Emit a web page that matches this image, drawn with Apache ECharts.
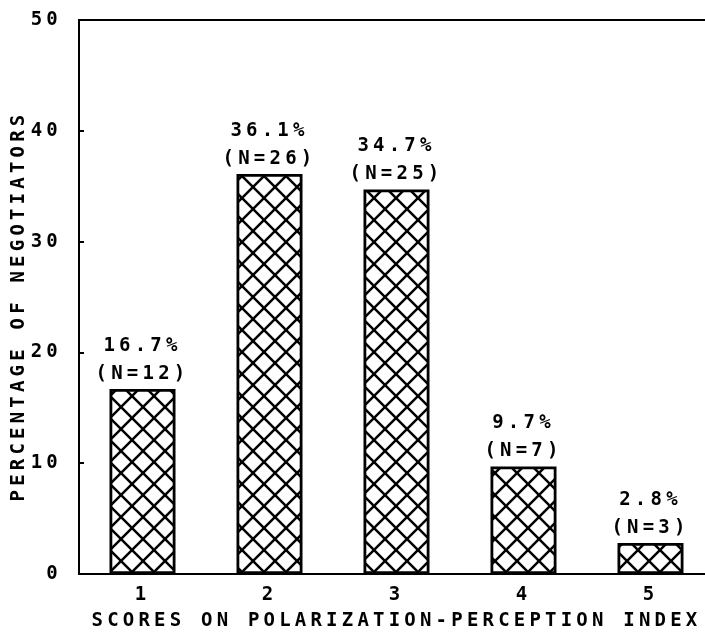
<!DOCTYPE html>
<html>
<head>
<meta charset="utf-8">
<script src="https://cdn.jsdelivr.net/npm/echarts@6/dist/echarts.min.js"></script>
<style>
  html, body { margin: 0; padding: 0; background: #fff; overflow: hidden; width: 705px; height: 633px; }
  #chart { width: 720px; height: 633px; }
</style>
</head>
<body>
<div id="chart"></div>
<script>
// ---- data ----
const categories = ['1', '2', '3', '4', '5'];
const percents = [16.7, 36.1, 34.7, 9.7, 2.8];
const counts = [12, 26, 25, 7, 3];
const yMin = 0, yMax = 50, yInterval = 10;
const xTitle = 'SCORES ON POLARIZATION-PERCEPTION INDEX';
const yTitle = 'PERCENTAGE OF NEGOTIATORS';

// plotter-style wide letter spacing applied to text drawing and measuring
const LS = '4.2px';
const P = CanvasRenderingContext2D.prototype;
['fillText', 'strokeText', 'measureText'].forEach(fn => {
  const orig = P[fn];
  P[fn] = function () { try { this.letterSpacing = LS; } catch (e) {} return orig.apply(this, arguments); };
});

// cross-hatch pattern tile
function makeHatch() {
  const s = 22;
  const c = document.createElement('canvas');
  c.width = s; c.height = s;
  const g = c.getContext('2d');
  g.fillStyle = '#fff'; g.fillRect(0, 0, s, s);
  g.strokeStyle = '#000'; g.lineWidth = 2.5;
  for (let k = -1; k <= 1; k++) {
    g.beginPath(); g.moveTo(k * s - 5, -5); g.lineTo(k * s + s + 5, s + 5); g.stroke();
    g.beginPath(); g.moveTo(k * s + s + 5, -5); g.lineTo(k * s - 5, s + 5); g.stroke();
  }
  return c;
}

const FONT = 'DejaVu Sans Mono';
const txt = { fontFamily: FONT, fontWeight: 'bold', fontSize: 19, color: '#000' };

const chart = echarts.init(document.getElementById('chart'), null, { renderer: 'canvas' });
chart.setOption({
  animation: false,
  backgroundColor: '#fff',
  grid: { left: 79, right: 6, top: 20, bottom: 59, outerBoundsMode: 'none', containLabel: false, show: true, borderColor: '#000', borderWidth: 2, backgroundColor: 'transparent' },
  xAxis: {
    type: 'category',
    data: categories,
    name: xTitle,
    nameLocation: 'middle',
    nameGap: 35,
    nameMoveOverlap: false,
    nameTextStyle: Object.assign({}, txt),
    axisLine: { lineStyle: { color: '#000', width: 2 } },
    axisTick: { show: false },
    axisLabel: Object.assign({ margin: 9 }, txt)
  },
  yAxis: {
    type: 'value',
    min: yMin, max: yMax, interval: yInterval,
    name: yTitle,
    nameLocation: 'middle',
    nameRotate: 90,
    nameGap: 48,
    nameMoveOverlap: false,
    nameTextStyle: Object.assign({ padding: [0, 18, 0, 0] }, txt),
    axisLine: { show: true, lineStyle: { color: '#000', width: 2 } },
    axisTick: { show: true, inside: true, length: 5, lineStyle: { color: '#000', width: 2 } },
    axisLabel: Object.assign({ margin: 17 }, txt),
    splitLine: { show: false }
  },
  series: [{
    type: 'bar',
    data: percents,
    barWidth: 66,
    itemStyle: {
      color: { image: makeHatch(), repeat: 'repeat' },
      borderColor: '#000',
      borderWidth: 2.8
    },
    label: Object.assign({
      show: true,
      position: 'top',
      distance: 1,
      lineHeight: 28,
      formatter: p => percents[p.dataIndex].toFixed(1) + '%\n(N=' + counts[p.dataIndex] + ')'
    }, txt)
  }]
});
</script>
</body>
</html>
